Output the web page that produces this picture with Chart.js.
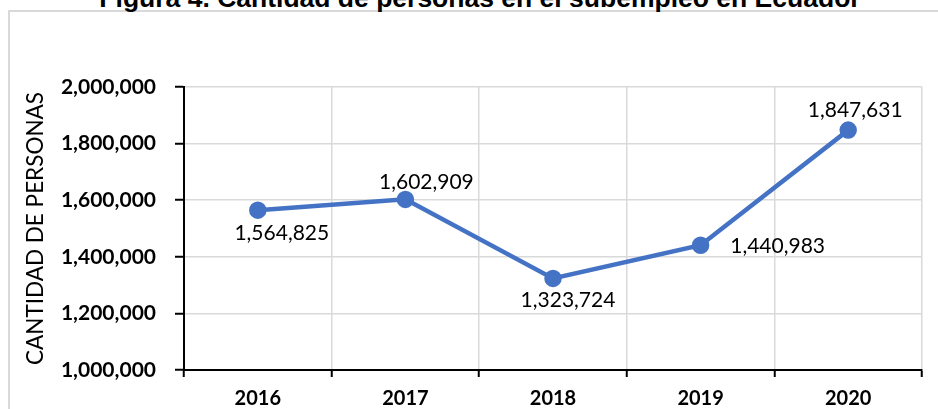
<!DOCTYPE html>
<html>
<head>
<meta charset="utf-8">
<script src="https://cdn.jsdelivr.net/npm/chart.js@4"></script>
<style>
  html, body { margin: 0; padding: 0; background: #fff; }
  #wrap { position: relative; width: 938px; height: 409px; overflow: hidden; }
  #frame {
    position: absolute; left: 8px; top: 10px; width: 960px; height: 440px;
    border: 2px solid #d9d9d9; box-sizing: border-box;
  }
  #title {
    position: absolute; left: 0; width: 960px; top: -15px; text-align: center;
    font: bold 26.5px "Liberation Sans", Arial, sans-serif; line-height: 26.5px; color: #000;
  }
  canvas { position: absolute; left: 0; top: 0; }
</style>
</head>
<body>
<div id="wrap">
  <div id="frame"></div>
  <div id="title">Figura 4. Cantidad de personas en el subempleo en Ecuador</div>
  <canvas id="chart" width="938" height="409"></canvas>
</div>
<script>
// Chart data
const years = ["2016", "2017", "2018", "2019", "2020"];
const personas = [1564825, 1602909, 1323724, 1440983, 1847631];
const yMin = 1000000;
const yMax = 2000000;
const yStep = 200000;

// Label offsets from each point (px), as placed in the original
const labelOffsets = [[24, 23], [21, -17], [15, 22], [77, 1], [7, -20]];

const fmt = (v) => v.toLocaleString("en-US");

const pointLabels = {
  id: "pointLabels",
  afterDatasetsDraw(chart) {
    const { ctx } = chart;
    const meta = chart.getDatasetMeta(0);
    ctx.save();
    ctx.font = "21px Lato, sans-serif";
    ctx.fillStyle = "#000";
    ctx.textAlign = "center";
    ctx.textBaseline = "middle";
    meta.data.forEach((pt, i) => {
      const [dx, dy] = labelOffsets[i];
      ctx.fillText(fmt(personas[i]), pt.x + dx, pt.y + dy);
    });
    ctx.restore();
  },
};

new Chart(document.getElementById("chart"), {
  type: "line",
  data: {
    labels: years,
    datasets: [
      {
        data: personas,
        borderColor: "#4472C4",
        backgroundColor: "#4472C4",
        borderWidth: 4.5,
        pointRadius: 6.5,
        pointHoverRadius: 6.5,
        tension: 0,
      },
    ],
  },
  options: {
    responsive: false,
    animation: false,
    events: [],
    layout: { padding: { left: 22, right: 16, top: 87, bottom: 0 } },
    plugins: { legend: { display: false }, tooltip: { enabled: false } },
    scales: {
      x: {
        offset: true,
        grid: {
          offset: true,
          color: "#d9d9d9",
          lineWidth: 1.5,
          tickColor: "#000",
          tickLength: 7,
          tickWidth: 2,
        },
        border: { color: "#000", width: 2 },
        ticks: {
          color: "#000",
          padding: 10,
          font: { family: "Lato", size: 20, weight: "bold" },
        },
        afterFit: (scale) => { scale.height = 39; },
      },
      y: {
        min: yMin,
        max: yMax,
        grid: {
          color: "#d9d9d9",
          lineWidth: 1.5,
          tickColor: "#000",
          tickLength: 9,
          tickWidth: 2,
        },
        border: { color: "#000", width: 2 },
        ticks: {
          stepSize: yStep,
          color: "#000",
          padding: 19,
          font: { family: "Lato", size: 21, weight: "bold" },
          callback: (v) => fmt(v),
        },
        title: {
          display: true,
          text: "CANTIDAD DE PERSONAS",
          color: "#000",
          padding: 0,
          font: { family: "Lato", size: 22.5 },
        },
        afterFit: (scale) => { scale.width = 162; },
      },
    },
  },
  plugins: [pointLabels],
});
</script>
</body>
</html>
